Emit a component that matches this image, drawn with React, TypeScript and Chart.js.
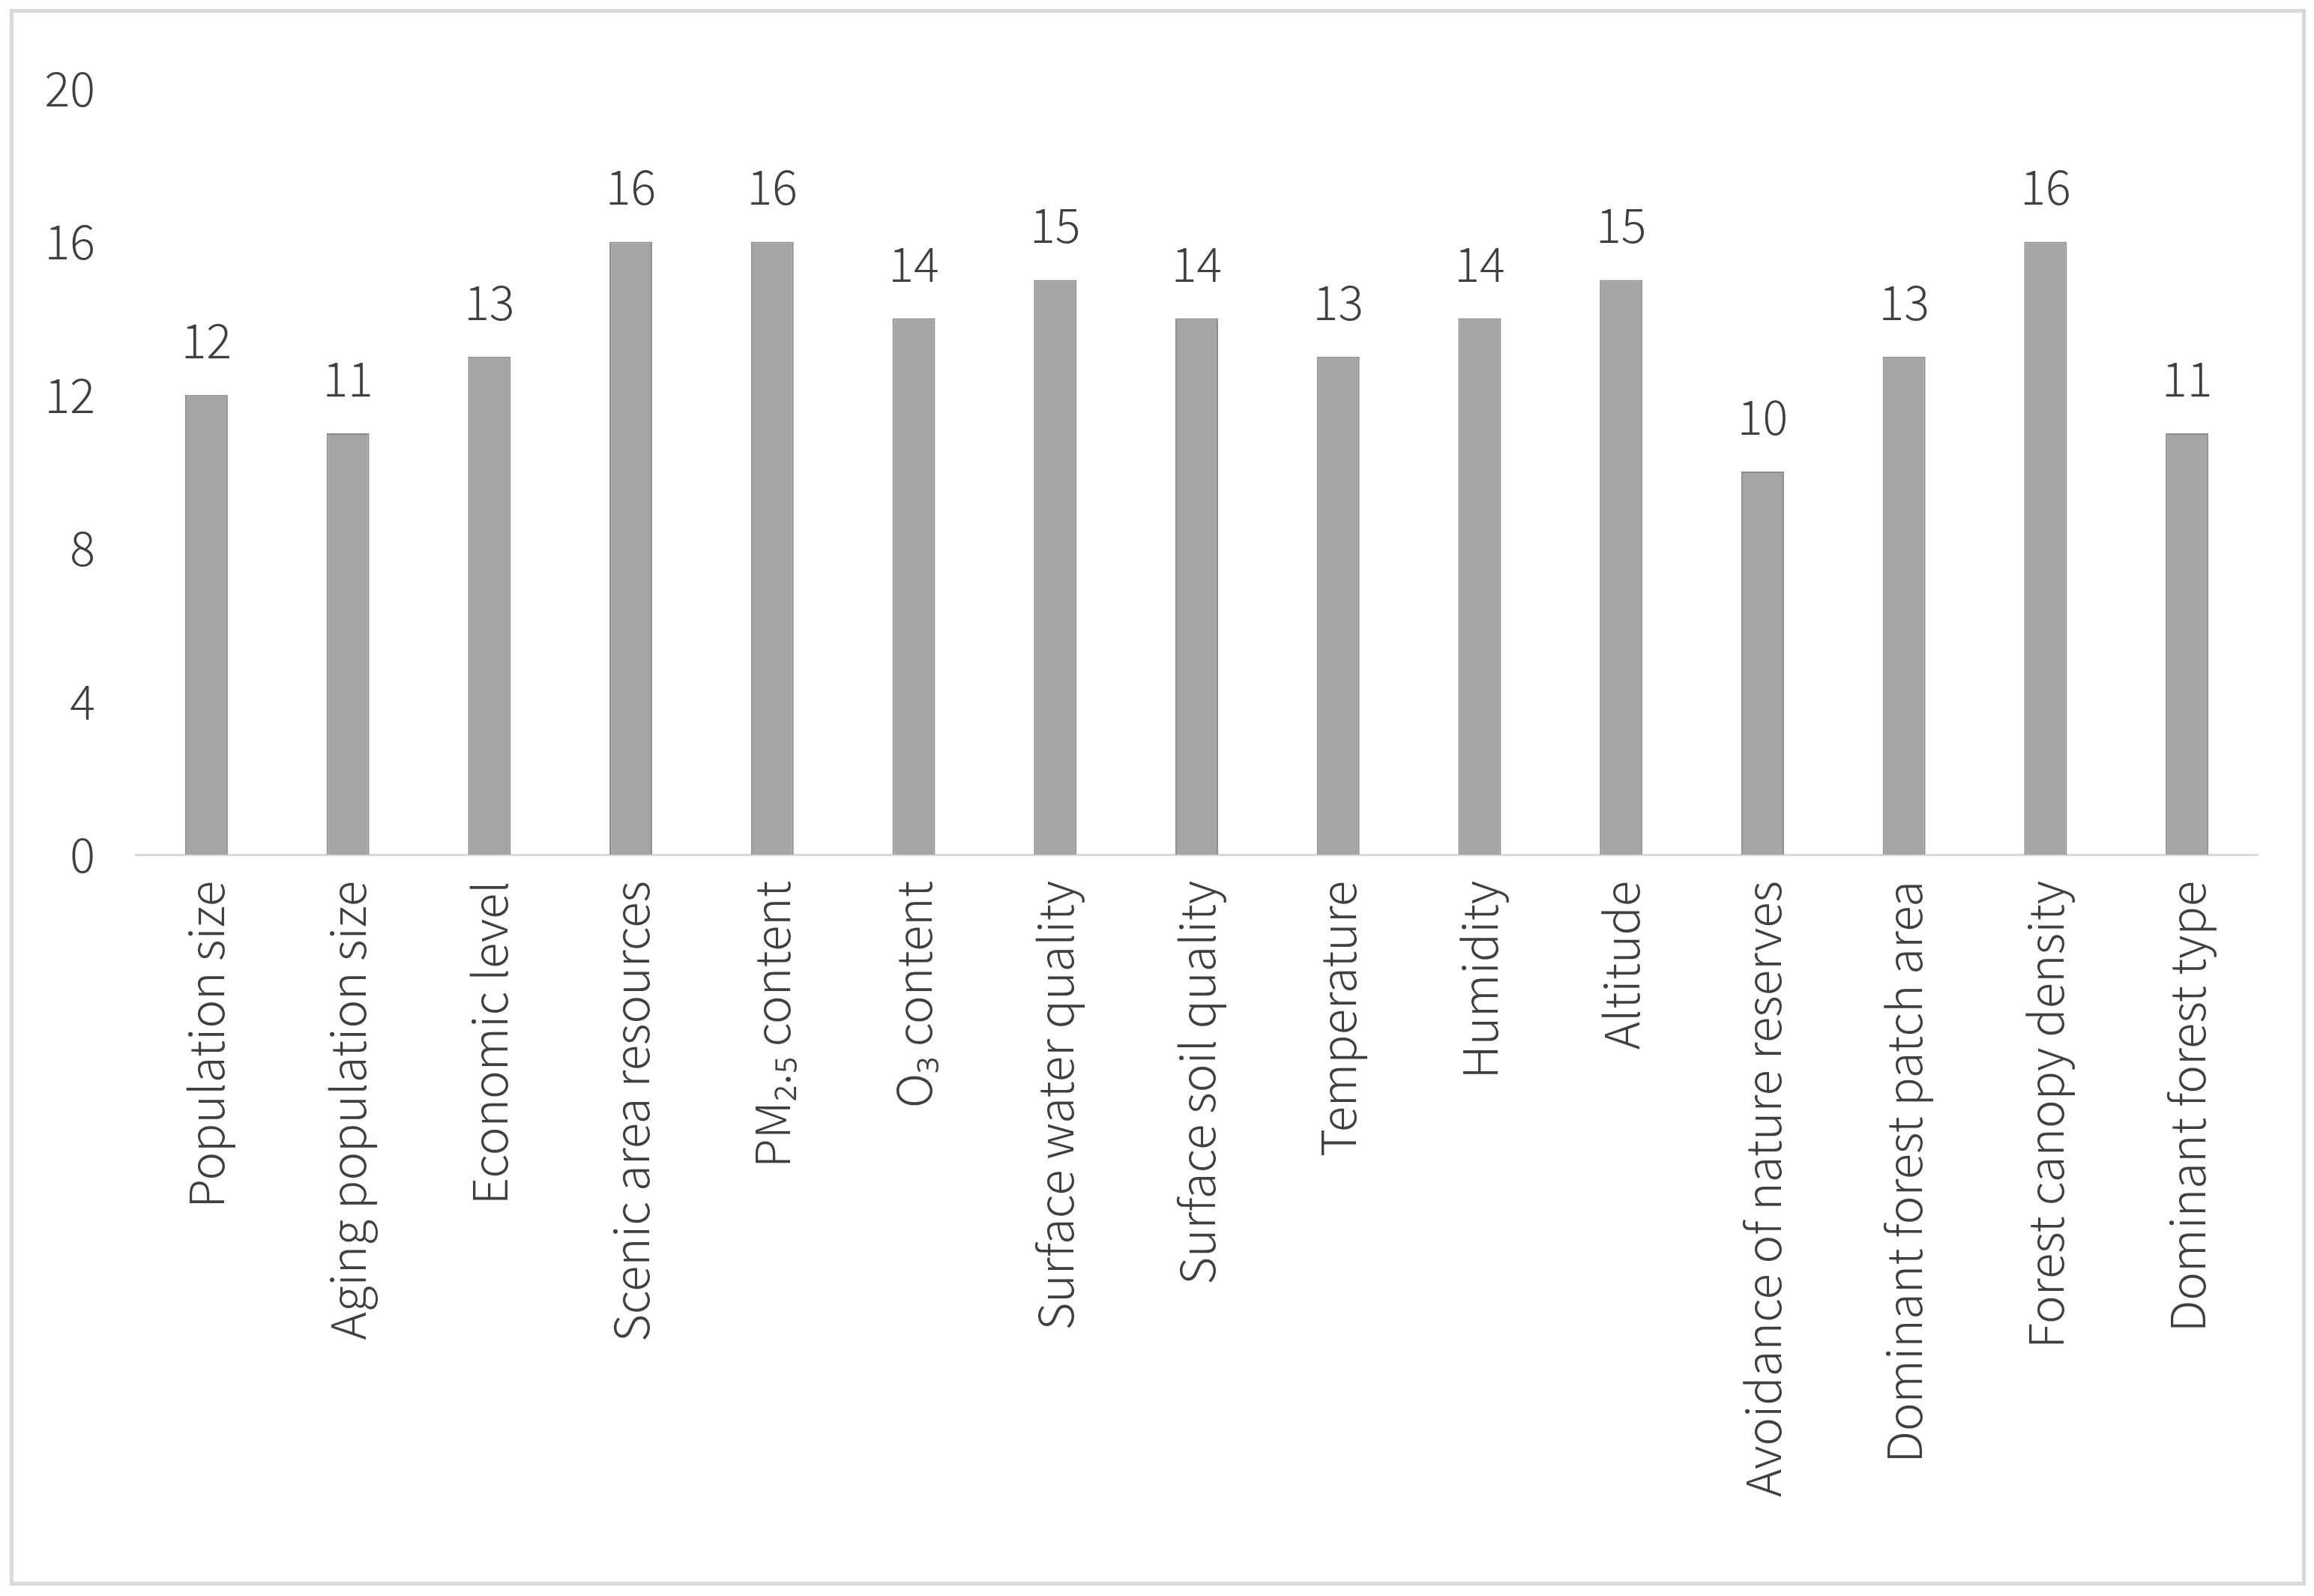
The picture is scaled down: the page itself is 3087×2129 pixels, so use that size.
import React, { useEffect, useRef } from "react";
import { Chart, registerables } from "chart.js";

Chart.register(...registerables);

const categories = [
  "Population size",
  "Aging population size",
  "Economic level",
  "Scenic area resources",
  "PM\u2082.\u2085 content",
  "O\u2083 content",
  "Surface water quality",
  "Surface soil quality",
  "Temperature",
  "Humidity",
  "Altitude",
  "Avoidance of nature reserves",
  "Dominant forest patch area",
  "Forest canopy density",
  "Dominant forest type",
];
const values = [12, 11, 13, 16, 16, 14, 15, 14, 13, 14, 15, 10, 13, 16, 11];
const yTicks = [0, 4, 8, 12, 16, 20];

const W = 3087;
const H = 2129;
const FONT = '"Noto Sans CJK SC", "Noto Sans", sans-serif';
const TEXT = "#404040";

const valueLabels = {
  id: "valueLabels",
  afterDatasetsDraw(chart: any) {
    const ctx = chart.ctx;
    const meta = chart.getDatasetMeta(0);
    ctx.save();
    ctx.font = `300 63px ${FONT}`;
    ctx.fillStyle = TEXT;
    ctx.textAlign = "center";
    ctx.textBaseline = "middle";
    meta.data.forEach((el: any, i: number) => {
      ctx.fillText(String(values[i]), el.x, el.y - 73);
    });
    ctx.restore();
  },
};

export default function App() {
  const ref = useRef<HTMLCanvasElement | null>(null);
  useEffect(() => {
    if (!ref.current) return;
    const chart = new Chart(ref.current, {
      type: "bar",
      data: {
        labels: categories,
        datasets: [
          {
            data: values,
            backgroundColor: "#a5a5a5",
            borderColor: "#8e8e8e",
            borderWidth: 2,
            barPercentage: 0.302,
            categoryPercentage: 1,
          },
        ],
      },
      options: {
        responsive: false,
        animation: false,
        devicePixelRatio: 1,
        layout: { padding: { left: 0, right: 75, top: 118, bottom: 0 } },
        plugins: {
          legend: { display: false },
          tooltip: { enabled: false },
        },
        scales: {
          x: {
            grid: { display: false, drawTicks: false },
            border: { display: true, color: "#d9d9d9", width: 3 },
            ticks: {
              autoSkip: false,
              maxRotation: 90,
              minRotation: 90,
              padding: 35,
              color: TEXT,
              font: { family: FONT, size: 63.5, weight: "300" as any },
            },
            afterFit: (s: any) => {
              s.height = H - 1140;
            },
          },
          y: {
            min: 0,
            max: 20,
            grid: { display: false, drawTicks: false },
            border: { display: false },
            afterBuildTicks: (s: any) => {
              s.ticks = yTicks.map((v) => ({ value: v }));
            },
            ticks: {
              stepSize: 4,
              padding: 54,
              color: TEXT,
              font: { family: FONT, size: 63, weight: "300" as any },
            },
            afterFit: (s: any) => {
              s.width = 181;
            },
          },
        },
      },
      plugins: [valueLabels],
    });
    return () => chart.destroy();
  }, []);

  return (
    <div
      style={{
        position: "absolute",
        left: 0,
        top: 0,
        width: W,
        height: H,
        background: "#ffffff",
      }}
    >
      <div
        style={{
          position: "absolute",
          left: 13,
          top: 12,
          width: 3063 - 10,
          height: 2103 - 10,
          border: "5px solid #d9d9d9",
        }}
      />
      <canvas
        ref={ref}
        width={W}
        height={H}
        style={{ position: "absolute", left: 0, top: 0, width: W, height: H }}
      />
    </div>
  );
}
